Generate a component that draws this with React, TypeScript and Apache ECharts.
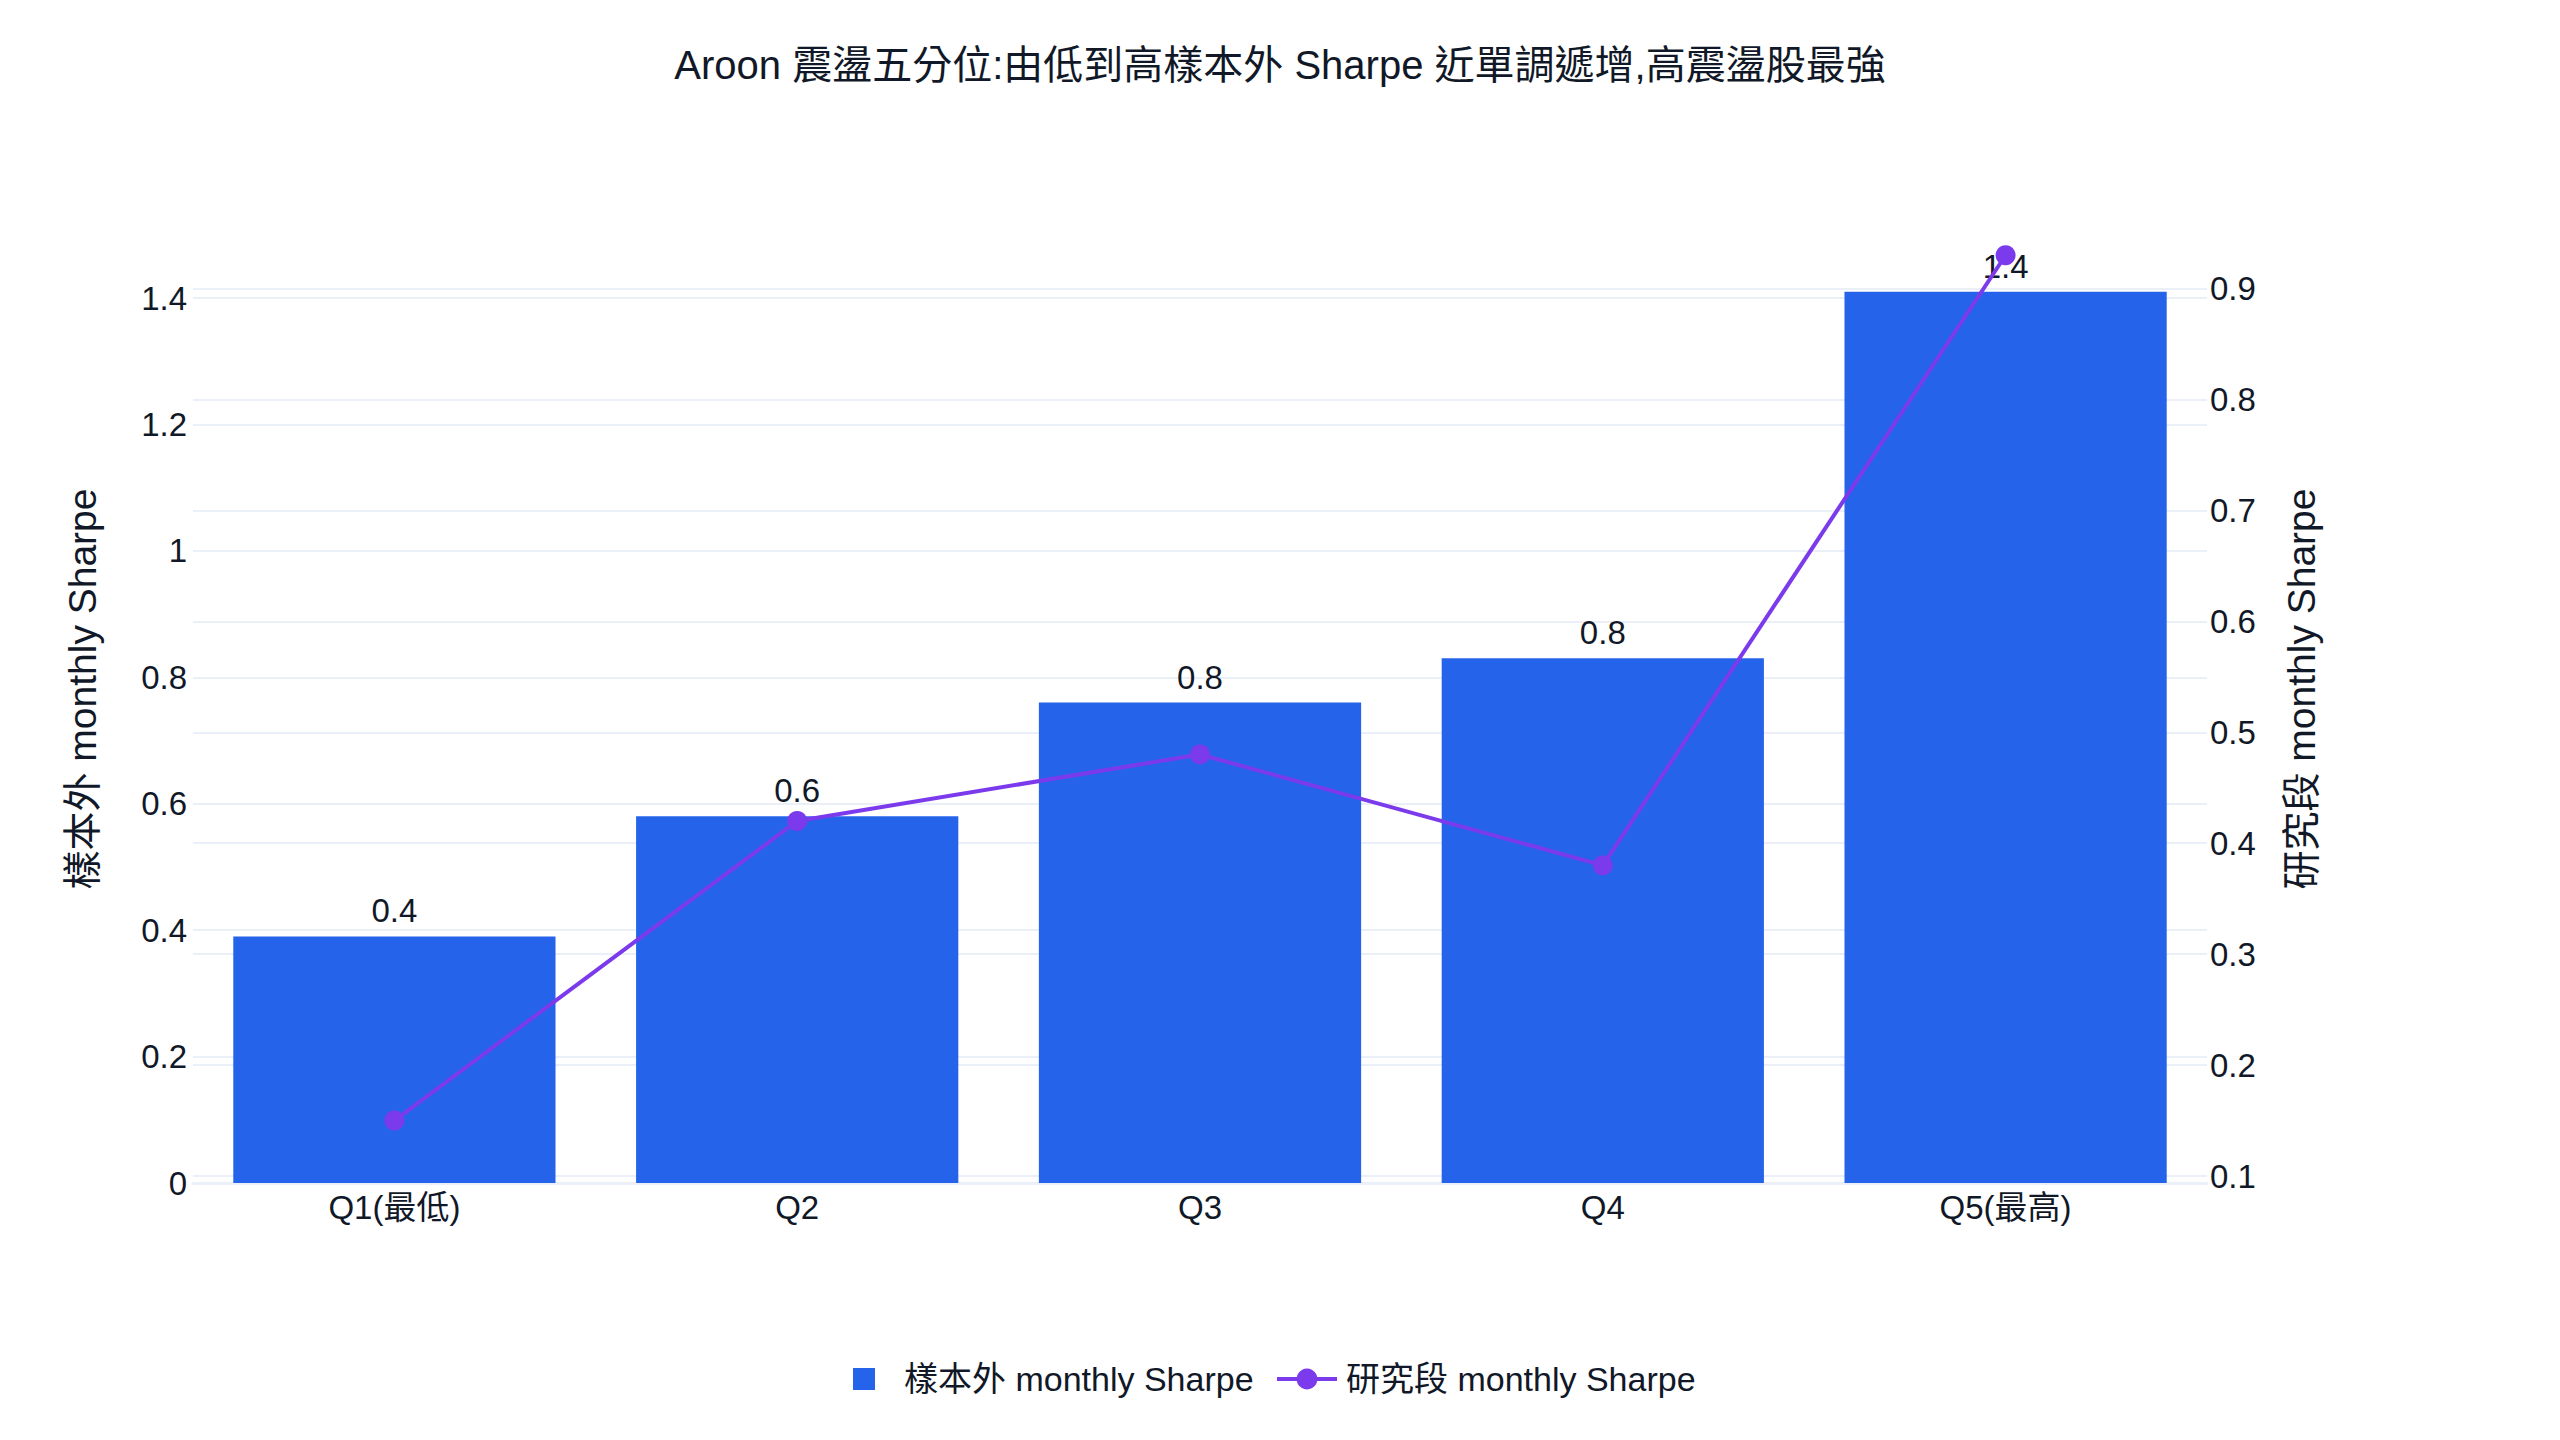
import { useEffect, useRef } from 'react'
import * as echarts from 'echarts'

const categories = ['Q1(最低)', 'Q2', 'Q3', 'Q4', 'Q5(最高)']
const outOfSampleSharpe = [0.39, 0.58, 0.76, 0.83, 1.41]
const researchSharpe = [0.15, 0.42, 0.48, 0.38, 0.93]

const leftRange = { min: 0, max: 1.563, interval: 0.2 }
const rightRange = { min: 0.1, max: 0.978, interval: 0.1 }

const barName = '樣本外 monthly Sharpe'
const lineName = '研究段 monthly Sharpe'
const titleText = 'Aroon 震盪五分位:由低到高樣本外 Sharpe 近單調遞增,高震盪股最強'

const FONT = "'Liberation Sans', Arial, 'Noto Sans CJK TC', sans-serif"
const TEXT = '#111827'
const GRID_LINE = '#EBF0F8'

export default function App() {
  const chartRef = useRef<HTMLDivElement | null>(null)

  useEffect(() => {
    if (!chartRef.current) {
      return
    }

    const chart = echarts.init(chartRef.current, undefined, { renderer: 'svg' })
    chart.setOption({
      animation: false,
      backgroundColor: '#ffffff',
      textStyle: { fontFamily: FONT, color: TEXT },
      title: {
        text: titleText,
        left: 'center',
        top: 40,
        textStyle: { fontFamily: FONT, fontSize: 40, fontWeight: 'normal', color: TEXT },
      },
      legend: [
        {
          data: [{ name: barName, icon: 'rect' }],
          left: 848,
          top: 1357,
          itemWidth: 22,
          itemHeight: 22,
          textStyle: { fontFamily: FONT, fontSize: 34, color: TEXT, padding: [0, 0, 0, 24] },
        },
        {
          data: [{ name: lineName }],
          left: 1270,
          top: 1357,
          itemWidth: 60,
          itemHeight: 26,
          lineStyle: { width: 4 },
          textStyle: { fontFamily: FONT, fontSize: 34, color: TEXT, padding: [0, 0, 0, 4] },
        },
      ],
      grid: [
        { left: 193, right: 353, top: 195, bottom: 257 },
        { left: 193, right: 353, top: 202, bottom: 264 },
      ],
      xAxis: [
        {
          type: 'category',
          gridIndex: 0,
          data: categories,
          axisTick: { show: false },
          axisLine: { lineStyle: { color: GRID_LINE, width: 3 } },
          axisLabel: { fontFamily: FONT, fontSize: 33, color: TEXT, margin: 8 },
        },
        {
          type: 'category',
          gridIndex: 1,
          data: categories,
          show: false,
        },
      ],
      yAxis: [
        {
          type: 'value',
          gridIndex: 0,
          position: 'left',
          ...leftRange,
          name: barName,
          nameLocation: 'middle',
          nameRotate: 90,
          nameGap: 91,
          nameTextStyle: { fontFamily: FONT, fontSize: 39, color: TEXT },
          axisLine: { show: false },
          axisTick: { show: false },
          axisLabel: {
            fontFamily: FONT,
            fontSize: 33,
            color: TEXT,
            margin: 6,
            showMaxLabel: false,
            formatter: (v: number) => String(Math.round(v * 10) / 10),
          },
          splitLine: { showMaxLine: false, lineStyle: { color: GRID_LINE, width: 2 } },
        },
        {
          type: 'value',
          gridIndex: 1,
          position: 'right',
          ...rightRange,
          name: lineName,
          nameLocation: 'middle',
          nameRotate: 90,
          nameGap: 75,
          nameTextStyle: { fontFamily: FONT, fontSize: 39, color: TEXT },
          axisLine: { show: false },
          axisTick: { show: false },
          axisLabel: {
            fontFamily: FONT,
            fontSize: 33,
            color: TEXT,
            margin: 3,
            showMaxLabel: false,
            formatter: (v: number) => String(Math.round(v * 10) / 10),
          },
          splitLine: { showMaxLine: false, lineStyle: { color: GRID_LINE, width: 2 } },
        },
      ],
      series: [
        {
          name: barName,
          type: 'bar',
          xAxisIndex: 0,
          yAxisIndex: 0,
          barCategoryGap: '20%',
          itemStyle: { color: '#2563eb' },
          label: {
            show: true,
            position: 'top',
            distance: 9,
            fontFamily: FONT,
            fontSize: 33,
            color: TEXT,
            formatter: (p: { value: number }) => p.value.toFixed(1),
          },
          data: outOfSampleSharpe,
        },
        {
          name: lineName,
          type: 'line',
          xAxisIndex: 1,
          yAxisIndex: 1,
          symbol: 'circle',
          symbolSize: 20,
          clip: false,
          itemStyle: { color: '#7c3aed' },
          lineStyle: { color: '#7c3aed', width: 4 },
          data: researchSharpe,
        },
      ],
    })

    const resize = () => chart.resize()
    window.addEventListener('resize', resize)
    return () => {
      window.removeEventListener('resize', resize)
      chart.dispose()
    }
  }, [])

  return (
    <div
      ref={chartRef}
      style={{ position: 'fixed', left: 0, top: 0, width: '100vw', height: '100vh' }}
    />
  )
}
